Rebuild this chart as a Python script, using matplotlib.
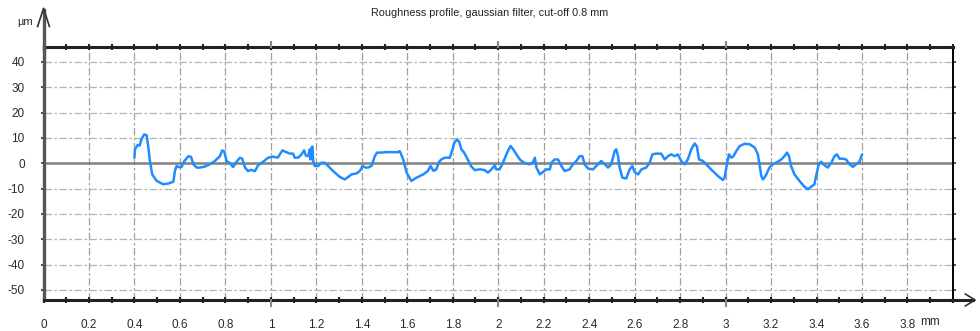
import numpy as np
import matplotlib.pyplot as plt
from matplotlib.ticker import MultipleLocator, FixedLocator

plt.rcParams['font.family'] = ['Liberation Sans', 'DejaVu Sans']
plt.rcParams['axes.unicode_minus'] = False

# Filtered roughness profile (mm, µm)
pos_mm = [0.400, 0.402, 0.414, 0.423, 0.430, 0.443, 0.454, 0.461, 0.468, 0.478,
          0.498, 0.527, 0.549, 0.571, 0.578, 0.585, 0.593, 0.607, 0.619, 0.637,
          0.649, 0.659, 0.673, 0.688, 0.710, 0.732, 0.754, 0.776, 0.786, 0.795,
          0.805, 0.820, 0.834, 0.849, 0.864, 0.874, 0.886, 0.900, 0.912, 0.930,
          0.944, 0.966, 0.988, 1.010, 1.030, 1.051, 1.062, 1.084, 1.098, 1.105,
          1.120, 1.135, 1.146, 1.154, 1.164, 1.171, 1.174, 1.179, 1.183, 1.186,
          1.193, 1.208, 1.222, 1.237, 1.252, 1.274, 1.303, 1.325, 1.340, 1.355,
          1.377, 1.391, 1.403, 1.418, 1.428, 1.443, 1.457, 1.467, 1.486, 1.508,
          1.537, 1.559, 1.567, 1.582, 1.597, 1.618, 1.640, 1.670, 1.690, 1.702,
          1.715, 1.728, 1.740, 1.750, 1.765, 1.787, 1.799, 1.807, 1.819, 1.828,
          1.838, 1.850, 1.866, 1.880, 1.897, 1.920, 1.940, 1.955, 1.970, 1.985,
          1.990, 2.006, 2.021, 2.039, 2.054, 2.066, 2.080, 2.095, 2.117, 2.138,
          2.153, 2.161, 2.168, 2.183, 2.197, 2.212, 2.227, 2.234, 2.248, 2.263,
          2.278, 2.292, 2.314, 2.329, 2.344, 2.358, 2.370, 2.380, 2.395, 2.417,
          2.439, 2.453, 2.468, 2.483, 2.497, 2.512, 2.519, 2.527, 2.534, 2.546,
          2.563, 2.578, 2.590, 2.600, 2.615, 2.630, 2.651, 2.666, 2.678, 2.695,
          2.717, 2.732, 2.747, 2.761, 2.776, 2.790, 2.805, 2.820, 2.834, 2.849,
          2.864, 2.874, 2.883, 2.900, 2.922, 2.944, 2.966, 2.988, 2.995, 3.006,
          3.015, 3.025, 3.035, 3.047, 3.062, 3.084, 3.106, 3.128, 3.142, 3.150,
          3.157, 3.164, 3.176, 3.186, 3.193, 3.208, 3.230, 3.245, 3.259, 3.270,
          3.279, 3.288, 3.303, 3.325, 3.347, 3.362, 3.376, 3.391, 3.398, 3.410,
          3.420, 3.435, 3.450, 3.465, 3.479, 3.490, 3.501, 3.516, 3.530, 3.545,
          3.560, 3.574, 3.589, 3.600]
rough_um = [2.2, 5.5, 7.2, 7.0, 9.4, 11.4, 11.0, 6.2, 0.9, -4.4,
            -7.0, -8.3, -8.0, -7.3, -3.0, -1.1, -1.5, -1.5, 0.8, 2.8,
            2.5, -0.4, -1.7, -1.7, -1.3, -0.4, 0.9, 2.8, 5.1, 4.6,
            0.9, 0.0, -1.5, 0.6, 2.2, 1.8, -1.7, -3.1, -2.6, -3.1,
            -0.8, 0.6, 2.2, 2.6, 2.2, 5.1, 4.6, 3.8, 3.8, 2.2,
            2.2, 3.5, 5.1, 3.0, 2.8, 5.5, 1.5, 6.2, 6.6, 0.9,
            -1.1, -1.1, 0.2, 0.2, -1.1, -3.1, -5.4, -6.4, -5.4, -4.4,
            -4.0, -3.1, -1.1, -1.7, -1.7, -1.0, 2.8, 4.2, 4.2, 4.4,
            4.4, 4.4, 4.8, 1.5, -3.7, -7.0, -5.7, -4.4, -3.1, -1.1,
            -3.0, -2.4, 0.6, 1.5, 2.2, 2.2, 5.5, 8.1, 9.4, 8.5,
            5.5, 4.2, 1.5, -1.1, -2.7, -2.4, -2.7, -3.7, -2.4, -0.8,
            -2.4, -2.4, 0.2, 4.2, 6.8, 5.5, 3.5, 1.5, 0.0, -0.4,
            0.4, 2.2, -1.7, -4.4, -3.4, -2.4, -2.4, 0.2, 1.5, 1.5,
            -1.1, -3.1, -2.4, -0.4, 0.9, 2.8, 2.8, -0.4, -2.1, -2.4,
            -0.4, 0.9, -0.4, -1.7, -0.4, 4.8, 5.5, 2.8, -1.7, -5.7,
            -6.0, -2.4, -1.1, -3.5, -4.4, -2.4, -1.7, 0.2, 3.5, 3.8,
            3.8, 1.5, 2.8, 3.5, 2.8, 3.5, 0.9, -0.4, 1.5, 5.5,
            7.8, 6.6, 1.5, 0.9, -1.1, -3.1, -5.0, -6.6, -5.8, -0.4,
            3.5, 2.2, 2.8, 4.8, 6.8, 7.7, 7.5, 6.2, 3.5, -1.1,
            -5.0, -6.4, -5.0, -3.1, -1.7, -0.4, 0.6, 1.5, 2.8, 4.2,
            2.8, -1.1, -4.4, -7.0, -9.3, -10.3, -9.3, -8.3, -5.0, -0.4,
            0.6, -0.8, -1.7, 0.2, 2.8, 3.5, 1.8, 1.8, 1.5, -0.4,
            -1.4, -0.4, 0.6, 3.5]

x_ticks = np.round(np.arange(0, 3.81, 0.2), 1)
x_labels = ['0', '0.2', '0.4', '0.6', '0.8', '1', '1.2', '1.4', '1.6', '1.8',
            '2', '2.2', '2.4', '2.6', '2.8', '3', '3.2', '3.4', '3.6', '3.8']
y_ticks = [40, 30, 20, 10, 0, -10, -20, -30, -40, -50]

fig = plt.figure(figsize=(9.8, 3.31), dpi=100)
ax = fig.add_axes([0.0444, 0.0937, 0.928, 0.765])
ax.set_xlim(0, 4.0)
ax.set_ylim(-54, 46)

# dashed grid
grid_dash = (0, (6, 2, 2, 2))
for xv in x_ticks[1:]:
    ax.axvline(xv, color='#a0a0a0', lw=0.9, ls=grid_dash, zorder=1)
for yv in y_ticks:
    if yv != 0:
        ax.axhline(yv, color='#b4b4b4', lw=0.9, ls=grid_dash, zorder=1)
ax.axhline(0, color='#808080', lw=1.8, zorder=2)

ax.plot(pos_mm, rough_um, color='#1f8cff', lw=1.8, zorder=3,
        solid_joinstyle='round', solid_capstyle='round')

# frame
for side in ['top', 'bottom']:
    ax.spines[side].set_linewidth(2.2)
    ax.spines[side].set_color('#222222')
ax.spines['right'].set_linewidth(1.4)
ax.spines['right'].set_color('black')
ax.spines['left'].set_linewidth(2.4)
ax.spines['left'].set_color('#555555')

ax.xaxis.set_major_locator(FixedLocator(x_ticks))
ax.set_xticklabels(x_labels)
ax.xaxis.set_minor_locator(MultipleLocator(0.1))
ax.tick_params(axis='x', which='both', top=True, bottom=True, direction='inout',
               length=4, width=1.5, color='#222222', pad=12,
               labelsize=8.5, labelcolor='#2a2a2a')
ax.set_yticks(y_ticks)
ax.tick_params(axis='y', which='both', left=True, right=True, direction='out',
               length=2.5, width=1.2, color='#333333', pad=11,
               labelsize=8.5, labelcolor='#2a2a2a')

# longer marks at whole millimetres
for xv in [1, 2, 3]:
    ax.plot([xv, xv], [46, 48], color='#888888', lw=1.5, clip_on=False, zorder=4)
    ax.plot([xv, xv], [-54, -56.5], color='#888888', lw=1.5, clip_on=False, zorder=4)

# axis arrows
ax_left = 0.0444
ax_bottom = 0.0937
fig.add_artist(plt.Line2D([ax_left, ax_left], [0.85, 0.97], color='#555555', lw=2.4,
                          transform=fig.transFigure))
fig.add_artist(plt.Line2D([ax_left - 0.006, ax_left, ax_left + 0.006], [0.92, 0.975, 0.92],
                          color='#333333', lw=1.2, transform=fig.transFigure))
fig.add_artist(plt.Line2D([0.97, 0.993], [ax_bottom, ax_bottom], color='#222222', lw=2.2,
                          transform=fig.transFigure))
fig.add_artist(plt.Line2D([0.985, 0.995, 0.985], [ax_bottom + 0.018, ax_bottom, ax_bottom - 0.018],
                          color='#333333', lw=1.2, transform=fig.transFigure))

fig.text(0.018, 0.935, 'µm', fontsize=8, color='#2a2a2a', ha='left', va='center')
fig.text(0.949, 0.027, 'mm', fontsize=8.5, color='#2a2a2a', ha='center', va='center')
fig.text(0.5, 0.962, 'Roughness profile, gaussian filter, cut-off 0.8 mm',
         fontsize=7.8, color='#222222', ha='center', va='center')

fig.savefig('out.png', dpi=100)
